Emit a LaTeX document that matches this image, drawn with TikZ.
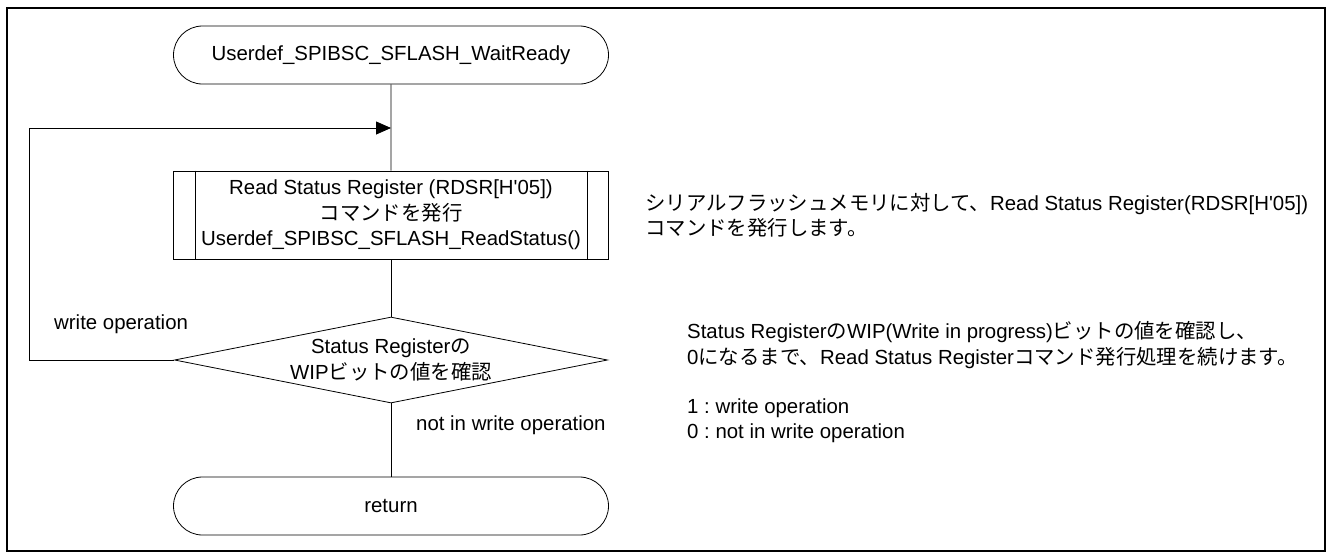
\documentclass[tikz,border=0pt]{standalone}
\usepackage{fontspec}
\setmainfont{Liberation Sans}
\newfontfamily\jpfont{Noto Sans CJK JP}
\newcommand{\jp}[1]{{\jpfont #1}}
\usetikzlibrary{arrows, arrows.meta, shapes.misc, shapes.geometric}
\frenchspacing

\begin{document}
\begin{tikzpicture}[x=1pt,y=-1pt]
\tikzstyle{every node}+=[inner sep=0pt, font=\fontsize{20.4}{25.5}\selectfont]
\tikzstyle{term}=[draw=black, line width=0.8pt, rounded rectangle, minimum width=435pt, minimum height=58pt]
\tikzstyle{proc}=[draw=black, line width=0.8pt, rectangle, minimum width=435pt, minimum height=88pt, align=center]
\tikzstyle{dec}=[draw=black, line width=0.8pt, diamond, aspect=5, minimum width=433pt, minimum height=86pt, align=center]
\tikzstyle{note}=[anchor=west, align=left]
\useasboundingbox (0,0) rectangle (1330,552);
\draw [black, line width=1.8pt] (7,8) rectangle (1325,551);
\node [term] (start) at (391,55) {Userdef\_SPIBSC\_SFLASH\_WaitReady};
\coordinate (join) at (391,128);
\node [proc] (rdsr) at (391,215) {Read Status Register (RDSR[H\textquotesingle05])\\\jp{コマンドを発行}\\Userdef\_SPIBSC\_SFLASH\_ReadStatus()};
\draw [black, line width=0.8pt] ([xshift=22pt]rdsr.north west) -- ([xshift=22pt]rdsr.south west);
\draw [black, line width=0.8pt] ([xshift=-22pt]rdsr.north east) -- ([xshift=-22pt]rdsr.south east);
\node [dec] (wip) at (391,360) {Status Register\jp{の}\\WIP\jp{ビットの値を確認}};
\node [term] (ret) at (391,506) {return};
\coordinate (back) at (29,360);
\coordinate (top) at (29,128);
\draw [black, line width=0.8pt] (start) -- (rdsr);
\draw [black, line width=0.8pt] (rdsr) -- (wip);
\draw [black, line width=0.8pt] (wip) -- (ret);
\draw [black, line width=0.8pt, -{Triangle[length=15pt,width=13pt]}] (wip.west) -- (back) -- (top) -- (join);
\node [anchor=west] (yes) at (54,324) {write operation};
\node [anchor=west] (no) at (416,425) {not in write operation};
\node [note] (n1) at (645,215.5) {\jp{シリアルフラッシュメモリに対して、}Read Status Register(RDSR[H\textquotesingle05])\\\jp{コマンドを発行します。}};
\node [note] (n2) at (687,345) {Status Register\jp{の}WIP(Write in progress)\jp{ビットの値を確認し、}\\0\jp{になるまで、}Read Status Register\jp{コマンド発行処理を続けます。}};
\node [note] (n3) at (687,420.5) {1 : write operation\\0 : not in write operation};
\end{tikzpicture}
\end{document}
